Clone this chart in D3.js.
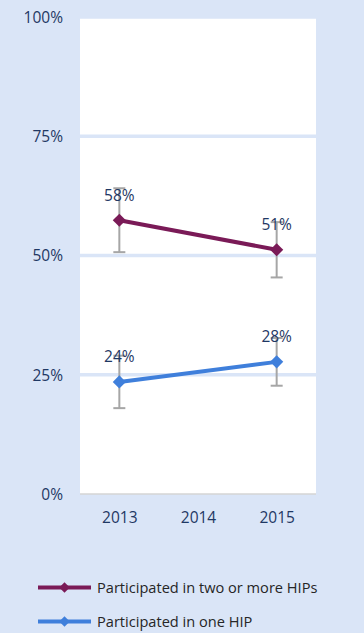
<!DOCTYPE html>
<html><head><meta charset="utf-8">
<script src="https://cdn.jsdelivr.net/npm/d3@7"></script>
<style>
html,body{margin:0;padding:0;background:#DAE5F7;}
svg{display:block;}
</style></head>
<body>
<svg id="chart" width="364" height="633"></svg>
<script>
const years = ["2013", "2014", "2015"];
const yTicks = [0, 25, 50, 75, 100];
const seriesNames = ["Participated in two or more HIPs", "Participated in one HIP"];
const seriesColors = ["#7A1A57", "#3F7FDB"];
const twoOrMore = [{year: "2013", value: 57.4, low: 50.7, high: 64.1, label: "58%"},
                   {year: "2015", value: 51.2, low: 45.4, high: 57.0, label: "51%"}];
const oneHip = [{year: "2013", value: 23.5, low: 18.0, high: 29.0, label: "24%"},
                {year: "2015", value: 27.7, low: 22.7, high: 32.7, label: "28%"}];
const series = [twoOrMore, oneHip];

const svg = d3.select("#chart");
const font = "'Open Sans', sans-serif";
const textColor = "#1F3864";

const x = d3.scalePoint().domain(years).range([80, 316]).padding(0.5);
const y = d3.scaleLinear().domain([0, 100]).range([494, 17]);

// plot area
svg.append("rect").attr("x", 80).attr("y", y(100)).attr("width", 236).attr("height", y(0) - y(100)).attr("fill", "#fff");

// gridlines
svg.append("g").selectAll("line").data(yTicks.filter(d => d > 0)).join("line")
  .attr("x1", 80).attr("x2", 316).attr("y1", d => y(d)).attr("y2", d => y(d))
  .attr("stroke", "#DAE5F7").attr("stroke-width", 3.5);
svg.append("line").attr("x1", 80).attr("x2", 316).attr("y1", y(0)).attr("y2", y(0))
  .attr("stroke", "#D4D4D4").attr("stroke-width", 1.5);

// y axis
const yAxis = d3.axisLeft(y).tickValues(yTicks).tickFormat(d => d + "%").tickSize(0).tickPadding(0);
const gy = svg.append("g").attr("transform", "translate(63,0)").call(yAxis);
gy.select(".domain").remove();
gy.selectAll("text").attr("font-family", font).attr("font-size", 15.5).attr("fill", textColor).attr("dy", "0.35em");

// x axis
const xAxis = d3.axisBottom(x).tickSize(0).tickPadding(0);
const gx = svg.append("g").attr("transform", "translate(0,518)").call(xAxis);
gx.select(".domain").remove();
gx.selectAll("text").attr("font-family", font).attr("font-size", 15.5).attr("fill", textColor).attr("dy", "0.35em");

const line = d3.line().x(d => x(d.year)).y(d => y(d.value));
const diamond = d3.symbol().type(d3.symbolDiamond2);

series.forEach((data, i) => {
  const g = svg.append("g");
  // error bars
  const eb = g.selectAll("g.eb").data(data).join("g");
  eb.append("line").attr("x1", d => x(d.year)).attr("x2", d => x(d.year))
    .attr("y1", d => y(d.low)).attr("y2", d => y(d.high))
    .attr("stroke", "#A6A6A6").attr("stroke-width", 2);
  ["low", "high"].forEach(k => {
    eb.append("line").attr("x1", d => x(d.year) - 6).attr("x2", d => x(d.year) + 6)
      .attr("y1", d => y(d[k])).attr("y2", d => y(d[k]))
      .attr("stroke", "#A6A6A6").attr("stroke-width", 2);
  });
  g.append("path").datum(data).attr("d", line).attr("fill", "none")
    .attr("stroke", seriesColors[i]).attr("stroke-width", 4);
  g.selectAll("path.m").data(data).join("path")
    .attr("d", diamond.size(110)())
    .attr("transform", d => `translate(${x(d.year)},${y(d.value)})`)
    .attr("fill", seriesColors[i]);
  g.selectAll("text").data(data).join("text")
    .attr("x", d => x(d.year)).attr("y", d => y(d.value) - 25)
    .attr("dy", "0.35em").attr("text-anchor", "middle")
    .attr("font-family", font).attr("font-size", 15.5).attr("fill", textColor)
    .text(d => d.label);
});

// legend
const legendY = [587.5, 621.5];
seriesNames.forEach((name, i) => {
  const g = svg.append("g").attr("transform", `translate(0,${legendY[i]})`);
  g.append("line").attr("x1", 38).attr("x2", 91).attr("y1", 0).attr("y2", 0)
    .attr("stroke", seriesColors[i]).attr("stroke-width", 4);
  g.append("path").attr("d", diamond.size(70)()).attr("transform", "translate(64.5,0)").attr("fill", seriesColors[i]);
  g.append("text").attr("x", 97).attr("y", 0).attr("dy", "0.35em")
    .attr("font-family", font).attr("font-size", 14.6).attr("fill", "#262626").text(name);
});
</script>
</body></html>
